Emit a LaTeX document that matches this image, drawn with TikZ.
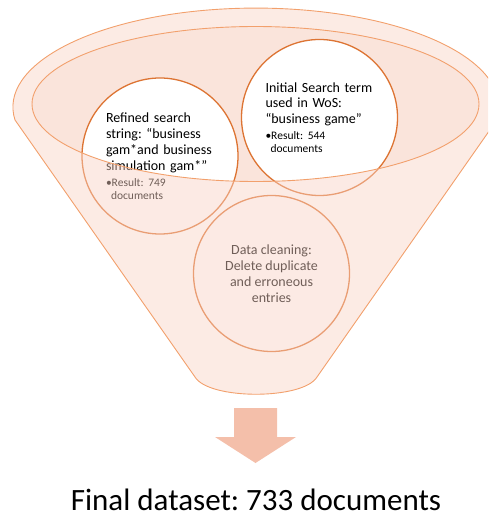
\documentclass[tikz,border=0pt]{standalone}
\usepackage{fontspec}
\setmainfont{Carlito}
\usetikzlibrary{positioning}
\frenchspacing
\definecolor{funnelline}{HTML}{F2A06C}
\definecolor{ringline}{HTML}{DD7433}
\definecolor{mouthfill}{HTML}{FAE4DB}
\definecolor{veil}{HTML}{F9D2C4}
\definecolor{arrowfill}{HTML}{F4BFAA}
\newcommand{\resultfont}{\fontsize{11.5}{13}\selectfont}
\tikzset{
	stage/.style={circle, draw=ringline, line width=1.3pt, fill=white, minimum size=156pt, inner sep=0pt},
	stagetext/.style={text width=108pt, align=left, font=\fontsize{14}{15.8}\selectfont}
}
\begin{document}
\begin{tikzpicture}[x=1pt, y=-1pt, line join=round, line cap=round]
	\useasboundingbox (0,0) rectangle (488,518);
	\clip (0,0) rectangle (488,518);
	\path 
	(15,120) coordinate (L)
	(317,377) coordinate (BR)
	(195,377) coordinate (BL)
	(255.5,104) coordinate (M)
	;
	% mouth of the funnel
	\fill[mouthfill] (M) ellipse[x radius=223.5, y radius=77.5];
	\node[stage] (initial) at (319.5,117.5) {};
	\node[stagetext] at (initial) {Initial Search term\\used in WoS:\\“business game”\par\vspace{3pt}
		{\resultfont •Result: 544\\\hspace*{5pt}documents\par}};
	\node[stage] (refined) at (160,156) {};
	\node[stagetext] at (refined) {Refined search\\string: “business\\gam*and business\\simulation gam*”\par\vspace{3pt}
		{\resultfont •Result: 749\\\hspace*{5pt}documents\par}};
	\node[stage, font=\fontsize{14}{15.8}\selectfont, align=center] (cleaning) at (271.5,273.5)
		{Data cleaning:\\Delete duplicate\\and erroneous\\entries};
	% body of the funnel over the circles
	\fill[veil, fill opacity=0.45, even odd rule] (L) arc[start angle=172.5, end angle=367.5, x radius=243, y radius=99]
		-- (BR) .. controls (303,400) and (209,400) .. (BL) -- cycle
		(M) ellipse[x radius=223.5, y radius=77.5];
	\draw[funnelline, line width=0.9pt] (L) arc[start angle=172.5, end angle=367.5, x radius=243, y radius=99]
		-- (BR) .. controls (303,400) and (209,400) .. (BL) -- cycle;
	\draw[funnelline, line width=0.9pt] (M) ellipse[x radius=223.5, y radius=77.5];
	% arrow and result
	\fill[arrowfill] (234,408) -- (277,408) -- (277,437) -- (296,437) -- (255.5,463) -- (215,437) -- (234,437) -- cycle;
	\node[anchor=base, font=\fontsize{31}{36}\selectfont, inner sep=0pt] (final) at (256,510) {Final dataset: 733 documents};
\end{tikzpicture}
\end{document}
